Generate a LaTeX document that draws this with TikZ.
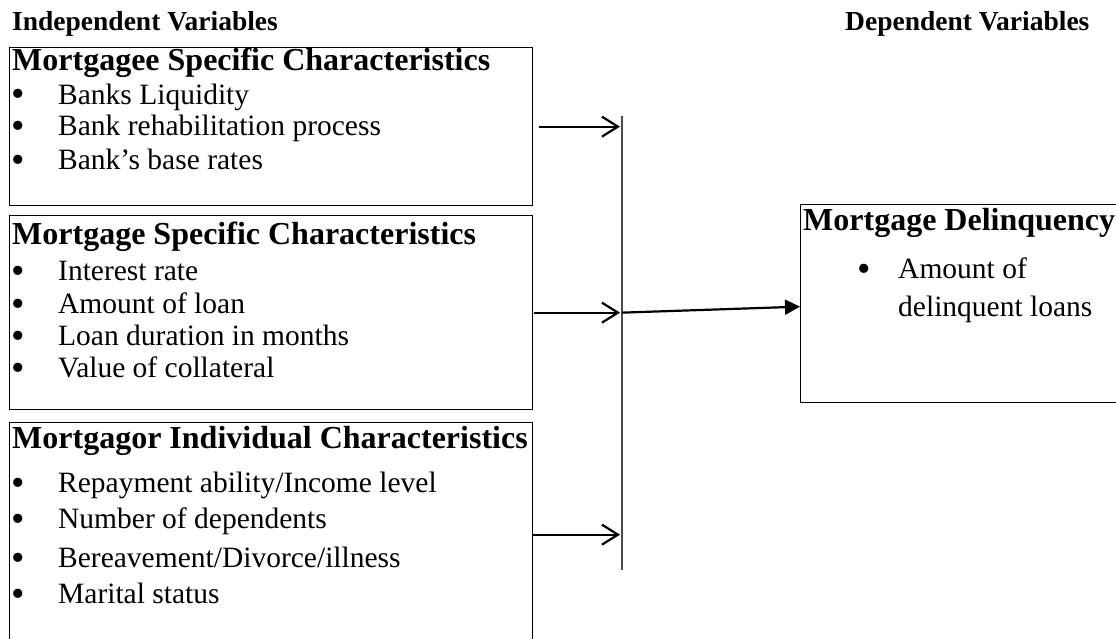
\documentclass[tikz,border=0pt]{standalone}
\usepackage{fontspec}
\setmainfont{Liberation Serif}
\usepackage{graphicx}
\usepackage{tikz}
\usetikzlibrary{positioning, fit, calc, arrows.meta}
\tikzstyle{block} = [rectangle, draw, line width=1.3pt, inner sep=0pt, anchor=north west]
\tikzstyle{title} = [anchor=west, inner sep=0pt, font=\fontsize{27.5}{32}\selectfont\bfseries]
\tikzstyle{head} = [anchor=west, inner sep=0pt, font=\fontsize{32}{36}\selectfont\bfseries]
\tikzstyle{item} = [anchor=west, align=left, inner sep=0pt, font=\fontsize{29.5}{38}\selectfont]
\newcommand{\bigdot}{\smash{\raisebox{-.1em}{\scalebox{1.3}{\textbullet}}}}
\newcommand{\bul}[1]{\makebox[47pt][l]{\bigdot}#1}

\begin{document}
\begin{tikzpicture}[x=1pt, y=1pt, node distance=31pt, >={Straight Barb[length=16pt,width=20pt]}]
		\useasboundingbox (0,0) rectangle (1116,-639);
		\clip (0,0) rectangle (1116,-639);
		% Judul
		\node[title] (indep) at (12,-24) {Independent Variables};
		\node[title] (dep) at (845,-24) {Dependent Variables};
		
		% Kotak kiri
		\node[block, minimum width=523pt, minimum height=158pt] (mgee) at (9,-47) {};
		\node[block, minimum width=523pt, minimum height=194pt] (mgage) at (9,-215) {};
		\node[block, minimum width=523pt, minimum height=224pt] (mgor) at (9,-422) {};
		
		% Mortgagee
		\node[head] (h1) at ($(mgee.north west)+(3,-16)$) {Mortgagee Specific Characteristics};
		\node[item, below=34pt of h1.west, anchor=west, xshift=-1pt] (b11) {\bul{Banks Liquidity}};
		\node[item, below=31pt of b11.west, anchor=west] (b12) {\bul{Bank rehabilitation process}};
		\node[item, below=31pt of b12.west, anchor=west] (b13) {\bul{Bank’s base rates}};
		
		% Mortgage
		\node[head] (h2) at ($(mgage.north west)+(3,-22)$) {Mortgage Specific Characteristics};
		\node[item, below=34pt of h2.west, anchor=west, xshift=-1pt] (b21) {\bul{Interest rate}};
		\node[item, below=32pt of b21.west, anchor=west] (b22) {\bul{Amount of loan}};
		\node[item, below=32pt of b22.west, anchor=west] (b23) {\bul{Loan duration in months}};
		\node[item, below=32pt of b23.west, anchor=west] (b24) {\bul{Value of collateral}};
		
		% Mortgagor
		\node[head] (h3) at ($(mgor.north west)+(3,-19)$) {Mortgagor Individual Characteristics};
		\node[item, below=44pt of h3.west, anchor=west, xshift=-1pt] (b31) {\bul{Repayment ability/Income level}};
		\node[item, below=36pt of b31.west, anchor=west] (b32) {\bul{Number of dependents}};
		\node[item, below=36pt of b32.west, anchor=west] (b33) {\bul{Bereavement/Divorce/illness}};
		\node[item, below=36pt of b33.west, anchor=west] (b34) {\bul{Marital status}};
		
		% Kotak kanan
		\node[block, minimum width=340pt, minimum height=198pt] (delinq) at (800,-204) {};
		\node[head] (h4) at ($(delinq.north west)+(3,-19)$) {Mortgage Delinquency};
		\node[item, below=67pt of h4.west, anchor=west, xshift=54pt] (b41) {\makebox[41pt][l]{\bigdot}Amount of\\\hspace*{41pt}delinquent loans};
		
		% Garis tegak
		\coordinate (bartop) at (622,-116);
		\coordinate (barbot) at (622,-570);
		\draw[line width=1.6pt, black!70] (bartop) -- (barbot);
		
		\draw[->, line width=2.2pt] ($(mgee.east)+(6,0)$) -- ($(mgee.east -| bartop)+(-2,0)$);
		\draw[->, line width=2.2pt] ($(mgage.east)+(1,0)$) -- ($(mgage.east -| bartop)+(-2,0)$);
		\draw[->, line width=2.2pt] (mgor.east) -- ($(mgor.east -| bartop)+(-2,0)$);
		\draw[-{Triangle[length=15pt,width=15pt]}, line width=2.2pt] (mgage.east -| bartop) -- ($(delinq.west)+(0,-3)$);
	\end{tikzpicture}
\end{document}
